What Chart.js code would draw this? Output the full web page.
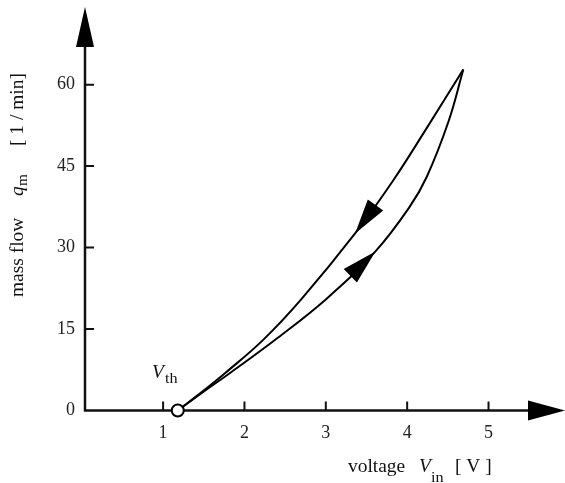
<!DOCTYPE html>
<html>
<head>
<meta charset="utf-8">
<script src="https://cdn.jsdelivr.net/npm/chart.js@4"></script>
<style>
  html, body { margin: 0; padding: 0; background: #fff; }
  #wrap { width: 565px; height: 483px; }
</style>
</head>
<body>
<div id="wrap"><canvas id="grafico" width="565" height="483"></canvas></div>
<script>
// valori (tensione in V, portata in l/min)
const upperX = [1.18, 1.51, 1.76, 2.23, 2.70, 3.36, 3.83, 4.24, 4.69];
const upperY = [0, 3.8, 6.85, 13.0, 20.5, 32.6, 42.4, 52.0, 62.8];
const lowerX = [1.18, 1.51, 1.84, 2.41, 3.01, 3.61, 4.03, 4.24, 4.51, 4.69];
const lowerY = [0, 3.6, 7.1, 13.4, 20.6, 29.3, 37.5, 43.0, 53.3, 62.8];
const xTicks = [1, 2, 3, 4, 5];
const yTicks = [0, 15, 30, 45, 60];
const vth = 1.18;
// posizione delle frecce sulle curve (x della punta, verso)
const arrowUpper = { at: 3.36, dir: -1 };
const arrowLower = { at: 3.61, dir: 1 };

const serif = "'Liberation Serif', 'Times New Roman', serif";

function punti(xs, ys) {
  return xs.map((v, i) => ({ x: v, y: ys[i] }));
}

function interp(xs, ys, xv) {
  for (let i = 1; i < xs.length; i++) {
    if (xv <= xs[i]) {
      let t = (xv - xs[i - 1]) / (xs[i] - xs[i - 1]);
      return ys[i - 1] + t * (ys[i] - ys[i - 1]);
    }
  }
  return ys[ys.length - 1];
}

// testo leggermente allargato, come nell'originale
function scrivi(ctx, s, x, y, size, italic) {
  ctx.save();
  ctx.font = (italic ? 'italic ' : '') + size + 'px ' + serif;
  ctx.translate(x, y);
  ctx.scale(1.08, 1);
  ctx.fillText(s, 0, 0);
  ctx.restore();
}

function senzaMargini(s) {
  s.paddingTop = 0;
  s.paddingBottom = 0;
  s.paddingLeft = 0;
  s.paddingRight = 0;
}

const assi = {
  id: 'assi',
  beforeDatasetsDraw(chart) {
    let ctx = chart.ctx;
    let sx = chart.scales.x, sy = chart.scales.y;
    let x0 = sx.left, y0 = sy.getPixelForValue(0);
    ctx.save();
    ctx.strokeStyle = '#111';
    ctx.fillStyle = '#000';
    ctx.lineWidth = 2.5;
    ctx.beginPath();
    ctx.moveTo(x0, y0 + 1);
    ctx.lineTo(x0, sy.top + 36);
    ctx.moveTo(x0 - 1, y0);
    ctx.lineTo(sx.right - 34, y0);
    ctx.stroke();
    // punte delle frecce
    ctx.beginPath();
    ctx.moveTo(x0, sy.top);
    ctx.lineTo(x0 - 9, sy.top + 40);
    ctx.lineTo(x0 + 9, sy.top + 40);
    ctx.closePath();
    ctx.fill();
    ctx.beginPath();
    ctx.moveTo(sx.right, y0);
    ctx.lineTo(sx.right - 37, y0 - 10);
    ctx.lineTo(sx.right - 37, y0 + 10);
    ctx.closePath();
    ctx.fill();
    // tacche verso l'interno
    ctx.lineWidth = 2;
    ctx.beginPath();
    xTicks.forEach(v => {
      let p = sx.getPixelForValue(v);
      ctx.moveTo(p, y0);
      ctx.lineTo(p, y0 - 9);
    });
    yTicks.forEach(v => {
      if (v === 0) return;
      let p = sy.getPixelForValue(v);
      ctx.moveTo(x0, p);
      ctx.lineTo(x0 + 9, p);
    });
    ctx.stroke();
    ctx.restore();
  },
  afterDatasetsDraw(chart) {
    let ctx = chart.ctx;
    let sx = chart.scales.x, sy = chart.scales.y;
    ctx.save();
    ctx.fillStyle = '#000';
    [[arrowUpper, upperX, upperY], [arrowLower, lowerX, lowerY]].forEach(a => {
      let f = a[0];
      let tx = sx.getPixelForValue(f.at), ty = sy.getPixelForValue(interp(a[1], a[2], f.at));
      let bv = f.at - f.dir * 0.15;
      let bx = sx.getPixelForValue(bv), by = sy.getPixelForValue(interp(a[1], a[2], bv));
      let dx = tx - bx, dy = ty - by, l = Math.hypot(dx, dy);
      dx /= l; dy /= l;
      let cx = tx - dx * 35, cy = ty - dy * 35;
      ctx.beginPath();
      ctx.moveTo(tx, ty);
      ctx.lineTo(cx - dy * 9.5, cy + dx * 9.5);
      ctx.lineTo(cx + dy * 9.5, cy - dx * 9.5);
      ctx.closePath();
      ctx.fill();
    });
    ctx.restore();
  },
  afterDraw(chart) {
    let ctx = chart.ctx;
    ctx.save();
    ctx.fillStyle = '#111';
    ctx.textBaseline = 'alphabetic';
    // titolo asse x
    scrivi(ctx, 'voltage', 348, 472, 18, false);
    scrivi(ctx, 'V', 419, 472, 18, true);
    scrivi(ctx, 'in', 431, 482, 15, false);
    scrivi(ctx, '[ V ]', 455, 472, 18, false);
    // etichetta soglia
    scrivi(ctx, 'V', 152, 378, 18, true);
    scrivi(ctx, 'th', 165, 383, 15, false);
    // titolo asse y (ruotato)
    ctx.translate(23, 0);
    ctx.rotate(-Math.PI / 2);
    scrivi(ctx, 'mass flow', -297, 0, 18, false);
    scrivi(ctx, 'q', -196, 0, 18, true);
    scrivi(ctx, 'm', -186, 4, 14, false);
    scrivi(ctx, '[ 1 / min]', -146, 0, 18, false);
    ctx.restore();
  }
};

new Chart(document.getElementById('grafico'), {
  type: 'scatter',
  data: {
    datasets: [
      {
        data: [{ x: vth, y: 0 }],
        pointRadius: 6,
        pointBackgroundColor: '#fff',
        pointBorderColor: '#000',
        pointBorderWidth: 2,
        clip: false,
        order: 0
      },
      {
        data: punti(upperX, upperY),
        showLine: true,
        borderColor: '#000',
        borderWidth: 2,
        pointRadius: 0,
        tension: 0.4,
        clip: false,
        order: 1
      },
      {
        data: punti(lowerX, lowerY),
        showLine: true,
        borderColor: '#000',
        borderWidth: 2,
        pointRadius: 0,
        tension: 0.4,
        clip: false,
        order: 1
      }
    ]
  },
  options: {
    responsive: false,
    animation: false,
    layout: { autoPadding: false, padding: { top: 7, right: 0, bottom: 0, left: 0 } },
    plugins: { legend: { display: false }, tooltip: { enabled: false } },
    scales: {
      x: {
        type: 'linear',
        min: 0.04,
        max: 5.94,
        grid: { display: false, drawTicks: false },
        border: { display: false },
        afterFit: s => { s.height = 72.5; senzaMargini(s); },
        afterBuildTicks: s => { s.ticks = xTicks.map(v => ({ value: v })); },
        ticks: { padding: 12, color: '#222', font: { family: serif, size: 18 } }
      },
      y: {
        type: 'linear',
        min: 0,
        max: 74.3,
        grid: { display: false, drawTicks: false },
        border: { display: false },
        afterFit: s => { s.width = 85; senzaMargini(s); },
        afterBuildTicks: s => { s.ticks = yTicks.map(v => ({ value: v })); },
        ticks: { padding: 10, color: '#222', font: { family: serif, size: 18 } }
      }
    }
  },
  plugins: [assi]
});
</script>
</body>
</html>
